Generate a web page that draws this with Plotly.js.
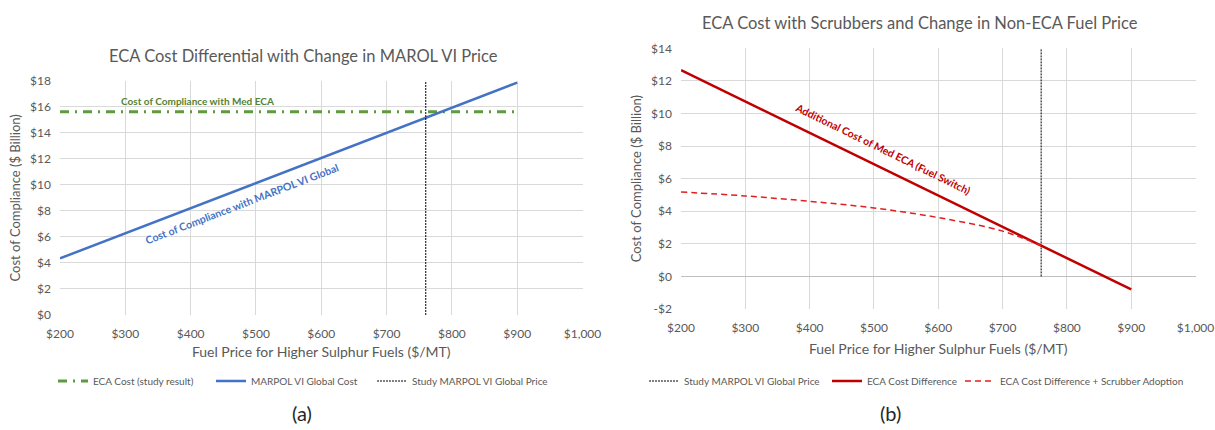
<!DOCTYPE html>
<html>
<head>
<meta charset="utf-8">
<script src="https://cdn.plot.ly/plotly-3.0.1.min.js"></script>
<style>
html,body{margin:0;padding:0;background:#fff;}
#chart{width:1215px;height:430px;}
</style>
</head>
<body>
<div id="chart"></div>
<script>
// ---- data ----
const priceEnds = [200, 900];
const marpolGlobalCost = [4.35, 17.85];
const ecaStudyCost = [15.62, 15.62];
const studyPriceX = [760, 760];
const studyPriceYLeft = [0, 18];
const studyPriceYRight = [0, 14];
const ecaCostDiff = [12.66, -0.8];
const scrubPrice = [200, 300, 400, 500, 600, 700, 760];
const scrubCostDiff = [5.18, 4.94, 4.61, 4.20, 3.61, 2.78, 1.88];

const xTickVals = [200, 300, 400, 500, 600, 700, 800, 900, 1000];
const xTickText = ['$200', '$300', '$400', '$500', '$600', '$700', '$800', '$900', '$1,000'];
const yLeftTickVals = [0, 2, 4, 6, 8, 10, 12, 14, 16, 18];
const yLeftTickText = ['$0', '$2', '$4', '$6', '$8', '$10', '$12', '$14', '$16', '$18'];
const yRightTickVals = [-2, 0, 2, 4, 6, 8, 10, 12, 14];
const yRightTickText = ['-$2', '$0', '$2', '$4', '$6', '$8', '$10', '$12', '$14'];

// ---- styling ----
const W = 1215, H = 430;
const px = v => v / W;
const py = v => 1 - v / H;
const FONT = 'Lato, "Open Sans", sans-serif';
const GREY = '#595959';
const GRID = '#d9d9d9';

const traces = [
  {x: priceEnds, y: ecaStudyCost, xaxis: 'x', yaxis: 'y', mode: 'lines', name: 'ECA Cost (study result)',
   line: {color: '#5e9a3e', width: 3, dash: '9px,6px,2px,6px'}, legend: 'legend'},
  {x: priceEnds, y: marpolGlobalCost, xaxis: 'x', yaxis: 'y', mode: 'lines', name: 'MARPOL VI Global Cost',
   line: {color: '#4472c4', width: 2.5}, legend: 'legend2'},
  {x: studyPriceX, y: studyPriceYLeft, xaxis: 'x', yaxis: 'y', mode: 'lines', name: 'Study MARPOL VI Global Price',
   line: {color: '#000', width: 1, dash: '2px,1px'}, legend: 'legend3'},
  {x: studyPriceX, y: studyPriceYRight, xaxis: 'x2', yaxis: 'y2', mode: 'lines', name: 'Study MARPOL VI Global Price',
   line: {color: '#000', width: 1, dash: '2px,1px'}, legend: 'legend4'},
  {x: priceEnds, y: ecaCostDiff, xaxis: 'x2', yaxis: 'y2', mode: 'lines', name: 'ECA Cost Difference',
   line: {color: '#c00000', width: 2.5}, legend: 'legend5'},
  {x: scrubPrice, y: scrubCostDiff, xaxis: 'x2', yaxis: 'y2', mode: 'lines', name: 'ECA Cost Difference + Scrubber Adoption',
   line: {color: '#e02020', width: 1.5, dash: '6px,4px', shape: 'spline'}, legend: 'legend6'}
];

const axisCommon = {
  showgrid: true, gridcolor: GRID, gridwidth: 1, zeroline: false,
  showline: false, ticks: '', tickfont: {family: FONT, size: 12, color: GREY},
  fixedrange: true, tickmode: 'array'
};

function legendAt(xPix) {
  return {orientation: 'h', x: px(xPix), xanchor: 'left', y: py(381), yanchor: 'middle',
    font: {family: FONT, size: 10, color: GREY}, bgcolor: 'rgba(0,0,0,0)'};
}

const layout = {
  width: W, height: H,
  margin: {l: 0, r: 0, t: 0, b: 0},
  paper_bgcolor: '#fff', plot_bgcolor: '#fff',
  font: {family: FONT, color: GREY},
  showlegend: true,
  xaxis: Object.assign({}, axisCommon, {
    domain: [px(60), px(582.5)], range: [200, 1000], anchor: 'y',
    tickvals: xTickVals, ticktext: xTickText, ticklabelstandoff: 10,
    title: {text: 'Fuel Price for Higher Sulphur Fuels ($/MT)', font: {family: FONT, size: 14, color: GREY}, standoff: 7}
  }),
  yaxis: Object.assign({}, axisCommon, {
    domain: [py(315), py(80.7)], range: [0, 18], anchor: 'x',
    tickvals: yLeftTickVals, ticktext: yLeftTickText, ticklabelstandoff: 8,
    title: {text: 'Cost of Compliance ($ Billion)', font: {family: FONT, size: 13, color: GREY}, standoff: 6}
  }),
  xaxis2: Object.assign({}, axisCommon, {
    domain: [px(681), px(1195.5)], range: [200, 1000], anchor: 'y2',
    tickvals: xTickVals, ticktext: xTickText, ticklabelstandoff: 10,
    title: {text: 'Fuel Price for Higher Sulphur Fuels ($/MT)', font: {family: FONT, size: 14, color: GREY}, standoff: 10}
  }),
  yaxis2: Object.assign({}, axisCommon, {
    domain: [py(309), py(48.3)], range: [-2, 14], anchor: 'x2',
    tickvals: yRightTickVals, ticktext: yRightTickText, ticklabelstandoff: 8,
    zeroline: true, zerolinecolor: '#bfbfbf', zerolinewidth: 1,
    title: {text: 'Cost of Compliance ($ Billion)', font: {family: FONT, size: 13, color: GREY}, standoff: 6}
  }),
  legend: legendAt(53),
  legend2: legendAt(211),
  legend3: legendAt(372),
  legend4: legendAt(644),
  legend5: legendAt(827),
  legend6: legendAt(960),
  annotations: [
    {xref: 'paper', yref: 'paper', x: px(303), y: py(56), text: 'ECA Cost Differential with Change in MAROL VI Price',
     showarrow: false, xanchor: 'center', yanchor: 'middle', font: {family: FONT, size: 16.5, color: GREY}},
    {xref: 'paper', yref: 'paper', x: px(919.5), y: py(22.7), text: 'ECA Cost with Scrubbers and Change in Non-ECA Fuel Price',
     showarrow: false, xanchor: 'center', yanchor: 'middle', font: {family: FONT, size: 16.5, color: GREY}},
    {xref: 'x', yref: 'y', x: 411, y: 16.44, text: '<b>Cost of Compliance with Med ECA</b>',
     showarrow: false, xanchor: 'center', yanchor: 'middle', font: {family: FONT, size: 10, color: '#548235'}},
    {xref: 'x', yref: 'y', x: 478, y: 8.54, text: '<b>Cost of Compliance with MARPOL VI Global</b>', textangle: -21,
     showarrow: false, xanchor: 'center', yanchor: 'middle', font: {family: FONT, size: 10.5, color: '#4472c4'}},
    {xref: 'x2', yref: 'y2', x: 514, y: 7.83, text: '<b>Additional Cost of Med ECA (Fuel Switch)</b>', textangle: 26,
     showarrow: false, xanchor: 'center', yanchor: 'middle', font: {family: FONT, size: 10.5, color: '#c00000'}},
    {xref: 'paper', yref: 'paper', x: px(302), y: py(413), text: '(a)',
     showarrow: false, xanchor: 'center', yanchor: 'middle', font: {family: FONT, size: 20, color: '#262626'}},
    {xref: 'paper', yref: 'paper', x: px(890), y: py(413), text: '(b)',
     showarrow: false, xanchor: 'center', yanchor: 'middle', font: {family: FONT, size: 20, color: '#262626'}}
  ]
};

Plotly.newPlot('chart', traces, layout, {displayModeBar: false, staticPlot: true});
</script>
</body>
</html>
